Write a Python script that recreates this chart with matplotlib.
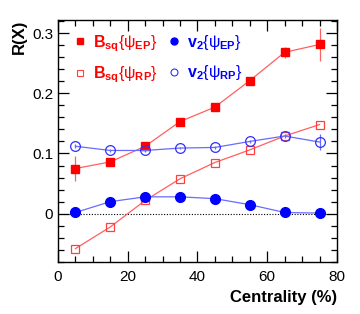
import numpy as np
import matplotlib.pyplot as plt
from matplotlib.lines import Line2D
from matplotlib.ticker import MultipleLocator

plt.rcParams['font.family'] = ['Liberation Sans', 'DejaVu Sans']
plt.rcParams['mathtext.fontset'] = 'custom'
plt.rcParams['mathtext.rm'] = 'Liberation Sans'
plt.rcParams['mathtext.it'] = 'Liberation Sans'
plt.rcParams['mathtext.bf'] = 'Liberation Sans:bold'

# centrality bins (%)
centrality = [5, 15, 25, 35, 45, 55, 65, 75]

bsq_ep = [0.075, 0.086, 0.112, 0.153, 0.177, 0.221, 0.268, 0.281]
bsq_ep_err = [0.020, 0.004, 0.004, 0.003, 0.003, 0.004, 0.009, 0.027]
bsq_rp = [-0.058, -0.022, 0.022, 0.058, 0.085, 0.106, 0.129, 0.148]
v2_ep = [0.002, 0.020, 0.028, 0.028, 0.025, 0.015, 0.002, 0.001]
v2_rp = [0.112, 0.105, 0.105, 0.109, 0.110, 0.120, 0.129, 0.119]
v2_rp_err = [0.003, 0.002, 0.002, 0.002, 0.002, 0.003, 0.004, 0.013]

labels = [r'$\mathbf{B_{sq}}\{\psi_{\mathbf{EP}}\}$', r'$\mathbf{B_{sq}}\{\psi_{\mathbf{RP}}\}$',
          r'$\mathbf{v_2}\{\psi_{\mathbf{EP}}\}$', r'$\mathbf{v_2}\{\psi_{\mathbf{RP}}\}$']

red_line = '#ff6060'
blue_line = '#6a6aff'

fig = plt.figure(figsize=(3.6, 3.14), dpi=100)
ax = fig.add_axes([0.161, 0.166, 0.775, 0.771])

ax.axhline(0, color='black', lw=0.8, ls=(0, (1, 1.5)), zorder=1)

ax.errorbar(centrality, bsq_ep, yerr=bsq_ep_err, color=red_line, lw=0.9,
            marker='s', ms=5.5, mfc='red', mec='red', elinewidth=0.9, capsize=0, zorder=3)
ax.plot(centrality, bsq_rp, color=red_line, lw=0.9, marker='s', ms=5.5,
        mfc='none', mec='#ff4040', mew=0.9, zorder=3)
ax.plot(centrality, v2_ep, color=blue_line, lw=0.9, marker='o', ms=7,
        mfc='#0000ff', mec='#0000ff', zorder=3)
ax.errorbar(centrality, v2_rp, yerr=v2_rp_err, color=blue_line, lw=0.9,
            marker='o', ms=7, mfc='none', mec='#3030ff', mew=0.9, elinewidth=0.9,
            capsize=0, zorder=3)

ax.set_xlim(0, 80)
ax.set_ylim(-0.08, 0.322)
ax.xaxis.set_major_locator(MultipleLocator(20))
ax.xaxis.set_minor_locator(MultipleLocator(5))
ax.yaxis.set_major_locator(MultipleLocator(0.1))
ax.yaxis.set_minor_locator(MultipleLocator(0.02))
ax.set_yticks([0, 0.1, 0.2, 0.3])
ax.set_yticklabels(['0', '0.1', '0.2', '0.3'])
ax.tick_params(which='both', direction='in', top=True, right=True, labelsize=11)
ax.tick_params(which='major', length=8, width=0.9)
ax.tick_params(which='minor', length=4, width=0.9)
ax.tick_params(axis='x', pad=6)
for s in ax.spines.values():
    s.set_linewidth(1.0)

ax.set_xlabel('Centrality (%)', fontsize=12, fontweight='bold', loc='right')
ax.set_ylabel('R(X)', fontsize=12, fontweight='bold', loc='top', labelpad=4)

handles = [
    Line2D([], [], ls='none', marker='s', ms=4, mfc='red', mec='red'),
    Line2D([], [], ls='none', marker='s', ms=4, mfc='none', mec='#ff4040', mew=0.8),
    Line2D([], [], ls='none', marker='o', ms=5, mfc='#0000ff', mec='#0000ff'),
    Line2D([], [], ls='none', marker='o', ms=5, mfc='none', mec='#3030ff', mew=0.8),
]
leg = ax.legend(handles, labels, ncol=2, frameon=False, loc='upper left',
                bbox_to_anchor=(0.03, 0.985), handlelength=0.5, handletextpad=0.55,
                columnspacing=0.75, labelspacing=0.7, borderaxespad=0.2,
                prop={'size': 11.5},
                labelcolor=['red', 'red', '#0000ff', '#0000ff'])

fig.savefig('out.png', dpi=100)
